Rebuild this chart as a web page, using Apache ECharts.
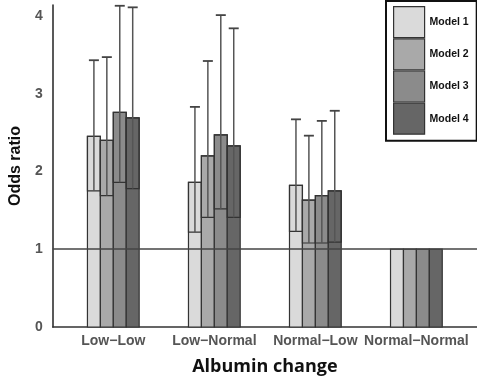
<!DOCTYPE html>
<html>
<head>
<meta charset="utf-8">
<script src="https://cdn.jsdelivr.net/npm/echarts@6/dist/echarts.min.js"></script>
<style>
  html, body { margin: 0; padding: 0; background: #fff; }
  #chart { width: 477px; height: 382px; }
</style>
</head>
<body>
<div id="chart"></div>
<script>
// categories on the x axis
const categories = ['Low\u2212Low', 'Low\u2212Normal', 'Normal\u2212Low', 'Normal\u2212Normal']
const models = ['Model 1', 'Model 2', 'Model 3', 'Model 4']
const colors = ['#dadada', '#a9a9a9', '#8b8b8b', '#666666']

// odds ratio per model, one value per category
const or1 = [2.45, 1.86, 1.82, 1]
const or2 = [2.40, 2.20, 1.63, 1]
const or3 = [2.76, 2.47, 1.69, 1]
const or4 = [2.69, 2.33, 1.75, 1]
// lower CI
const lo1 = [1.75, 1.22, 1.23, null]
const lo2 = [1.69, 1.41, 1.08, null]
const lo3 = [1.86, 1.52, 1.08, null]
const lo4 = [1.78, 1.41, 1.09, null]
// upper CI
const hi1 = [3.43, 2.83, 2.67, null]
const hi2 = [3.47, 3.42, 2.46, null]
const hi3 = [4.13, 4.01, 2.65, null]
const hi4 = [4.11, 3.84, 2.78, null]

const yTicks = [0, 1, 2, 3, 4]

const orAll = [or1, or2, or3, or4]
const loAll = [lo1, lo2, lo3, lo4]
const hiAll = [hi1, hi2, hi3, hi4]

const chart = echarts.init(document.getElementById('chart'))

function makeSeries(m) {
  return {
    name: models[m],
    type: 'custom',
    z: 3,
    itemStyle: { color: colors[m], borderColor: '#333' },
    data: categories.map((c, i) => [i + 1, orAll[m][i], loAll[m][i], hiAll[m][i]]),
    renderItem: function (params, api) {
      const i = params.dataIndex
      const x = api.value(0)
      const or = orAll[m][i]
      const lo = loAll[m][i]
      const hi = hiAll[m][i]
      const unit = api.size([1, 0])[0]
      const barW = unit * 0.128
      const cx = api.coord([x, 0])[0] + (m - 1.5) * barW
      const y0 = api.coord([x, 0])[1]
      const yOr = api.coord([x, or])[1]
      const children = [{
        type: 'rect',
        shape: { x: cx - barW / 2, y: yOr, width: barW, height: y0 - yOr },
        style: { fill: colors[m], stroke: '#333', lineWidth: 1.2 }
      }]
      if (lo != null) {
        const yLo = api.coord([x, lo])[1]
        const yHi = api.coord([x, hi])[1]
        children.push({
          type: 'rect',
          shape: { x: cx - barW / 2, y: yOr, width: barW, height: yLo - yOr },
          style: { fill: 'none', stroke: '#333', lineWidth: 1.2 }
        })
        children.push({
          type: 'line',
          shape: { x1: cx, y1: yLo, x2: cx, y2: yHi },
          style: { stroke: '#555', lineWidth: 1.5 }
        })
        children.push({
          type: 'line',
          shape: { x1: cx - 5, y1: yHi, x2: cx + 5, y2: yHi },
          style: { stroke: '#444', lineWidth: 1.8 }
        })
      }
      return { type: 'group', children: children }
    }
  }
}

const series = models.map((n, m) => makeSeries(m))
// reference line at odds ratio 1
series.push({
  type: 'line',
  data: [],
  z: 1,
  markLine: {
    silent: true,
    symbol: ['none', 'none'],
    label: { show: false },
    lineStyle: { color: '#444', width: 1.5, type: 'solid' },
    data: [{ yAxis: 1 }]
  }
})

chart.setOption({
  animation: false,
  grid: { left: 42, right: 0, top: 5, bottom: 55 },
  legend: {
    orient: 'vertical',
    left: 386,
    top: 1,
    itemWidth: 31,
    itemHeight: 31,
    itemGap: 0,
    padding: [5, 8, 6, 7],
    borderColor: '#111',
    borderWidth: 2,
    backgroundColor: '#fff',
    selectedMode: false,
    icon: 'rect',
    itemStyle: { borderColor: '#333', borderWidth: 1.2 },
    textStyle: { color: '#111', fontWeight: 'bold', fontSize: 10.5, fontFamily: 'Liberation Sans' },
    data: models.map((n, m) => ({ name: n, itemStyle: { color: colors[m] } }))
  },
  xAxis: {
    type: 'value',
    min: 0.4,
    max: 4.6,
    interval: 0.2,
    name: 'Albumin change',
    nameLocation: 'middle',
    nameGap: 31,
    nameTextStyle: { color: '#111', fontWeight: 'bold', fontSize: 18, fontFamily: 'Open Sans' },
    splitLine: { show: false },
    axisTick: { show: false },
    axisLine: { lineStyle: { color: '#333', width: 1.5 } },
    axisLabel: {
      color: '#555',
      fontWeight: 'bold',
      fontSize: 14,
      fontFamily: 'Liberation Sans',
      margin: 7,
      showMinLabel: false,
      showMaxLabel: false,
      formatter: function (v) {
        const r = Math.round(v)
        if (Math.abs(v - r) < 1e-6 && r >= 1 && r <= categories.length) return categories[r - 1]
        return ''
      }
    }
  },
  yAxis: {
    type: 'value',
    min: 0,
    max: 4.14,
    interval: 1,
    name: 'Odds ratio',
    nameLocation: 'middle',
    nameGap: 22,
    nameRotate: 90,
    nameTextStyle: { color: '#111', fontWeight: 'bold', fontSize: 16, fontFamily: 'Liberation Sans' },
    splitLine: { show: false },
    axisTick: { show: false },
    axisLine: { show: true, lineStyle: { color: '#222', width: 1.5 } },
    axisLabel: {
      color: '#555',
      fontWeight: 'bold',
      fontSize: 14,
      fontFamily: 'Liberation Sans',
      margin: 10,
      formatter: function (v) {
        return yTicks.indexOf(v) >= 0 ? String(v) : ''
      }
    }
  },
  series: series
})
</script>
</body>
</html>
